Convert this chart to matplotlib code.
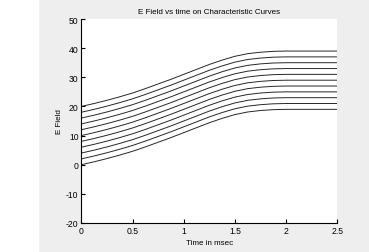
import matplotlib
matplotlib.use('Agg')
from matplotlib import pyplot as plt
from matplotlib.patches import Rectangle

# time axis (msec) and the shape of one characteristic curve
t = [0, 0.125, 0.25, 0.375, 0.5, 0.625, 0.75, 0.875, 1.0, 1.125, 1.25,
     1.375, 1.5, 1.625, 1.75, 1.875, 2.0, 2.125, 2.25, 2.375, 2.5]
base = [0, 1.0, 2.1, 3.3, 4.6, 6.1, 7.7, 9.3, 11.0, 12.7, 14.4,
        15.9, 17.2, 18.1, 18.6, 18.9, 19.0, 19.0, 19.0, 19.0, 19.0]
# starting E field of each curve
starts = [0, 2, 4, 6, 8, 10, 12, 14, 16, 18, 20]

xticks = [0, 0.5, 1, 1.5, 2, 2.5]
xlabels = ['0', '0.5', '1', '1.5', '2', '2.5']
yticks = [-20, -10, 0, 10, 20, 30, 40, 50]

plt.rcParams['font.family'] = ['Liberation Sans', 'DejaVu Sans']
plt.rcParams['axes.unicode_minus'] = False

fig = plt.figure(figsize=(3.69, 2.53), dpi=100, facecolor='#eeeeee')
fig.patches.append(Rectangle((0, 0), 38/369, 1, transform=fig.transFigure,
                             color='white', zorder=-1))
ax = fig.add_axes([81.3/369, 1-224/253, 256/369, 204/253])

for s in starts:
    ax.plot(t, [b + s for b in base], color='#262626', lw=0.7)

ax.set_xlim(0, 2.5)
ax.set_ylim(-20, 50)
ax.set_xticks(xticks)
ax.set_xticklabels(xlabels)
ax.set_yticks(yticks)
for side in ['top', 'right']:
    ax.spines[side].set_visible(False)
for side in ['left', 'bottom']:
    ax.spines[side].set_linewidth(0.8)
ax.tick_params(direction='in', length=3, width=0.8, labelsize=6.2, pad=2)

ax.set_title('E Field vs time on Characteristic Curves', fontsize=5.8, pad=4)
ax.set_xlabel('Time in msec', fontsize=5.8, labelpad=3)
ax.set_ylabel('E Field', fontsize=5.8, labelpad=2)

fig.savefig('out.png', dpi=100, facecolor=fig.get_facecolor())
